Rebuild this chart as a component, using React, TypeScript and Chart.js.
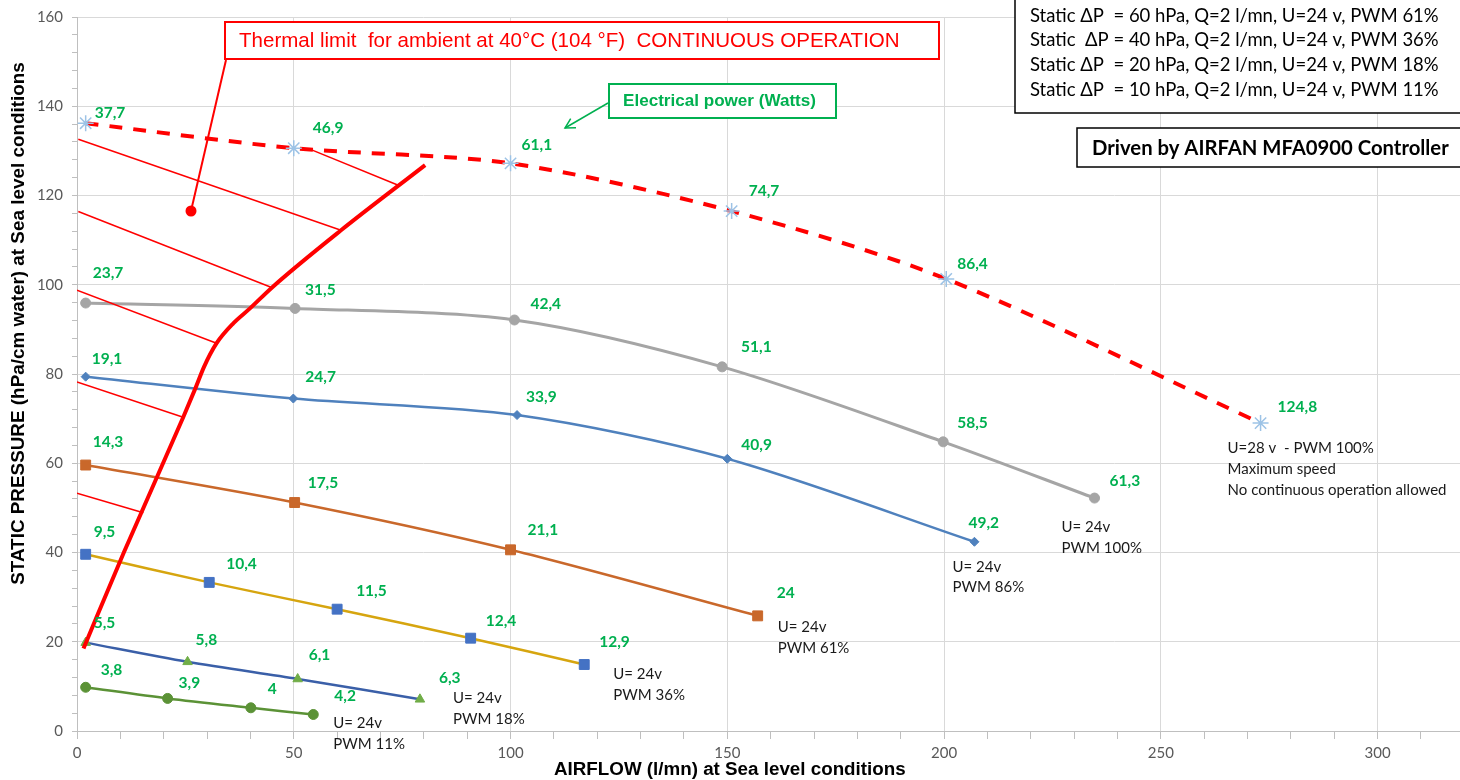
import React, { useEffect, useRef } from 'react';
import { Chart, registerables } from 'chart.js';

Chart.register(...registerables);

// ---------------- DATA ----------------
// Max speed U=28v PWM 100% (red dashed)
const maxQ = [2, 50, 100, 151, 200.5, 273];
const maxP = [136.2, 130.6, 127.2, 116.5, 101.3, 69];
const maxW = ['37,7', '46,9', '61,1', '74,7', '86,4', '124,8'];

// U=24v PWM 100% (grey)
const pwm100Q = [2, 50.3, 100.9, 148.8, 199.8, 234.7];
const pwm100P = [95.9, 94.7, 92.1, 81.6, 64.8, 52.2];
const pwm100W = ['23,7', '31,5', '42,4', '51,1', '58,5', '61,3'];

// U=24v PWM 86% (blue)
const pwm86Q = [2, 49.9, 101.5, 150, 207];
const pwm86P = [79.4, 74.5, 70.8, 61, 42.4];
const pwm86W = ['19,1', '24,7', '33,9', '40,9', '49,2'];

// U=24v PWM 61% (orange)
const pwm61Q = [2, 50.2, 100, 157];
const pwm61P = [59.6, 51.2, 40.6, 25.8];
const pwm61W = ['14,3', '17,5', '21,1', '24'];

// U=24v PWM 36% (gold)
const pwm36Q = [2, 30.5, 60, 90.8, 117];
const pwm36P = [39.6, 33.3, 27.3, 20.8, 14.9];
const pwm36W = ['9,5', '10,4', '11,5', '12,4', '12,9'];

// U=24v PWM 18% (dark blue)
const pwm18Q = [2, 25.5, 50.9, 79.1];
const pwm18P = [19.8, 15.5, 11.65, 7.1];
const pwm18W = ['5,5', '5,8', '6,1', '6,3'];

// U=24v PWM 11% (green)
const pwm11Q = [2, 20.9, 40.1, 54.5];
const pwm11P = [9.8, 7.3, 5.2, 3.7];
const pwm11W = ['3,8', '3,9', '4', '4,2'];

// Thermal limit curve
const thermalQ = [1.5, 10.8, 24.5, 27.4, 29.3, 32.2, 36.1, 39.9, 45, 60.9, 80.3];
const thermalP = [18.5, 40, 70.3, 77, 81.6, 86.9, 91.4, 94.7, 99.4, 112.2, 126.8];

// Hatch segments of the forbidden zone
const hatchStartQ = [0.3, 0.3, 0, 0, 0, 53.7];
const hatchStartP = [132.6, 116.4, 98.8, 78.2, 53.3, 130.4];
const hatchEndQ = [60.9, 44.9, 32.2, 24.5, 15.3, 74.1];
const hatchEndP = [112.2, 99.4, 86.9, 70.3, 48.9, 122.3];

// Axis ticks
const xMajorStep = 50;
const xMinorStep = 10;
const yMajorStep = 20;
const yMinorStep = 4;
const xMax = 319;
const yMax = 160;

// Texts
const notes100 = ['U= 24v', 'PWM 100%'];
const notes86 = ['U= 24v', 'PWM 86%'];
const notes61 = ['U= 24v', 'PWM 61%'];
const notes36 = ['U= 24v', 'PWM 36%'];
const notes18 = ['U= 24v', 'PWM 18%'];
const notes11 = ['U= 24v', 'PWM 11%'];
const notesMax = ['U=28 v  - PWM 100%', 'Maximum speed', 'No continuous operation allowed'];
const infoLines = [
  'Static \u0394P  = 60 hPa, Q=2 l/mn, U=24 v, PWM 61%',
  'Static  \u0394P = 40 hPa, Q=2 l/mn, U=24 v, PWM 36%',
  'Static \u0394P  = 20 hPa, Q=2 l/mn, U=24 v, PWM 18%',
  'Static \u0394P  = 10 hPa, Q=2 l/mn, U=24 v, PWM 11%',
];
const drivenText = 'Driven by AIRFAN MFA0900 Controller';
const thermalText = 'Thermal limit  for ambient at 40\u00B0C (104 \u00B0F)  CONTINUOUS OPERATION';
const powerText = 'Electrical power (Watts)';
const yTitle = 'STATIC PRESSURE (hPa/cm water) at Sea level conditions';
const xTitle = 'AIRFLOW (l/mn) at Sea level conditions';

// ---------------- LAYOUT / STYLE ----------------
const W = 1460;
const H = 780;
const PLOT_LEFT = 77;
const PLOT_TOP = 17;
const PLOT_BOTTOM = 731;
const GREEN = '#00B050';

type Off = [number, number];
const offMax: Off[] = [[9, -10], [19, -20], [11, -18], [17, -20], [11, -15], [17, -16]];
const off100: Off[] = [[7, -30], [10, -18], [16, -16], [19, -20], [14, -19], [15, -17]];
const off86: Off[] = [[6, -18], [12, -22], [9, -18], [14, -14], [-6, -19]];
const off61: Off[] = [[7, -23], [13, -20], [17, -20], [19, -23]];
const off36: Off[] = [[8, -22], [17, -18], [19, -18], [15, -17], [15, -23]];
const off18: Off[] = [[8, -20], [8, -22], [11, -24], [19, -21]];
const off11: Off[] = [[15, -17], [11, -15], [17, -19], [21, -18]];

interface Series {
  q: number[]; p: number[]; w: string[]; off: Off[];
  notes: string[]; noteOff: Off;
  color: string; width: number; pointStyle: any; radius: number;
  pointFill: string; pointBorder: string; pointBorderWidth: number; dash?: number[];
}

const SERIES: Series[] = [
  { q: maxQ, p: maxP, w: maxW, off: offMax, notes: notesMax, noteOff: [-33, 25], color: '#FF0000', width: 4, pointStyle: 'star', radius: 8, pointFill: 'rgba(0,0,0,0)', pointBorder: '#9DC3E6', pointBorderWidth: 1.5, dash: [13, 11] },
  { q: pwm100Q, p: pwm100P, w: pwm100W, off: off100, notes: notes100, noteOff: [-33, 29], color: '#A5A5A5', width: 3, pointStyle: 'circle', radius: 5, pointFill: '#A5A5A5', pointBorder: '#A5A5A5', pointBorderWidth: 1 },
  { q: pwm86Q, p: pwm86P, w: pwm86W, off: off86, notes: notes86, noteOff: [-22, 25], color: '#4F81BD', width: 2.5, pointStyle: 'rectRot', radius: 4.5, pointFill: '#4F81BD', pointBorder: '#4F81BD', pointBorderWidth: 1 },
  { q: pwm61Q, p: pwm61P, w: pwm61W, off: off61, notes: notes61, noteOff: [20, 11], color: '#C9682B', width: 2.5, pointStyle: 'rect', radius: 7, pointFill: '#C9682B', pointBorder: '#C9682B', pointBorderWidth: 1 },
  { q: pwm36Q, p: pwm36P, w: pwm36W, off: off36, notes: notes36, noteOff: [29, 10], color: '#D6A50F', width: 2.5, pointStyle: 'rect', radius: 7, pointFill: '#4472C4', pointBorder: '#4472C4', pointBorderWidth: 1 },
  { q: pwm18Q, p: pwm18P, w: pwm18W, off: off18, notes: notes18, noteOff: [33, -1], color: '#3A5FA8', width: 2.5, pointStyle: 'triangle', radius: 5.5, pointFill: '#70AD47', pointBorder: '#70AD47', pointBorderWidth: 1 },
  { q: pwm11Q, p: pwm11P, w: pwm11W, off: off11, notes: notes11, noteOff: [20, 9], color: '#5B9236', width: 2.5, pointStyle: 'circle', radius: 5, pointFill: '#5B9236', pointBorder: '#5B9236', pointBorderWidth: 1 },
];

function pts(q: number[], p: number[]) {
  return q.map((x, i) => ({ x, y: p[i] }));
}

function fitSize(ctx: CanvasRenderingContext2D, text: string, weight: string, family: string, target: number) {
  ctx.font = `${weight} 100px ${family}`;
  const w = ctx.measureText(text).width;
  return (100 * target) / w;
}

function box(ctx: CanvasRenderingContext2D, x1: number, y1: number, x2: number, y2: number, stroke: string, lw: number) {
  ctx.fillStyle = '#FFFFFF';
  ctx.fillRect(x1, y1, x2 - x1, y2 - y1);
  ctx.strokeStyle = stroke;
  ctx.lineWidth = lw;
  ctx.strokeRect(x1, y1, x2 - x1, y2 - y1);
}

const overlayPlugin = {
  id: 'overlay',
  afterDatasetsDraw(chart: any) {
    const ctx: CanvasRenderingContext2D = chart.ctx;
    const xs = chart.scales.x;
    const ys = chart.scales.y;
    ctx.save();
    ctx.textBaseline = 'middle';
    ctx.textAlign = 'left';
    // value labels
    ctx.font = 'bold 15.5px Lato';
    ctx.fillStyle = GREEN;
    SERIES.forEach((s) => {
      s.q.forEach((q, i) => {
        const px = xs.getPixelForValue(q);
        const py = ys.getPixelForValue(s.p[i]);
        ctx.fillText(s.w[i], px + s.off[i][0], py + s.off[i][1]);
      });
    });
    // curve notes
    ctx.font = '15px Lato';
    ctx.fillStyle = '#1A1A1A';
    SERIES.forEach((s) => {
      const n = s.q.length - 1;
      const px = xs.getPixelForValue(s.q[n]) + s.noteOff[0];
      const py = ys.getPixelForValue(s.p[n]) + s.noteOff[1];
      s.notes.forEach((t, k) => ctx.fillText(t, px, py + k * 20.8));
    });
    ctx.restore();
  },
  afterDraw(chart: any) {
    const ctx: CanvasRenderingContext2D = chart.ctx;
    ctx.save();
    ctx.textBaseline = 'middle';
    ctx.textAlign = 'left';

    // Thermal limit callout
    ctx.strokeStyle = '#FF0000';
    ctx.lineWidth = 2;
    ctx.beginPath();
    ctx.moveTo(226, 60);
    ctx.lineTo(191, 211);
    ctx.stroke();
    ctx.fillStyle = '#FF0000';
    ctx.beginPath();
    ctx.arc(191, 211, 5.5, 0, Math.PI * 2);
    ctx.fill();
    box(ctx, 225, 22, 939, 59, '#FF0000', 2);
    let fs = fitSize(ctx, thermalText, 'normal', '"Liberation Sans"', 661);
    ctx.font = `normal ${fs}px "Liberation Sans"`;
    ctx.fillStyle = '#FF0000';
    ctx.fillText(thermalText, 239, 41.5);

    // Electrical power callout
    ctx.strokeStyle = GREEN;
    ctx.lineWidth = 1.5;
    ctx.beginPath();
    ctx.moveTo(608, 103);
    ctx.lineTo(565, 128);
    ctx.stroke();
    const ang = Math.atan2(128 - 103, 565 - 608);
    ctx.beginPath();
    ctx.moveTo(565 - 11 * Math.cos(ang - 0.5), 128 - 11 * Math.sin(ang - 0.5));
    ctx.lineTo(565, 128);
    ctx.lineTo(565 - 11 * Math.cos(ang + 0.5), 128 - 11 * Math.sin(ang + 0.5));
    ctx.stroke();
    box(ctx, 609, 84, 836, 118, GREEN, 2);
    fs = fitSize(ctx, powerText, 'bold', '"Liberation Sans"', 193);
    ctx.font = `bold ${fs}px "Liberation Sans"`;
    ctx.fillStyle = GREEN;
    ctx.fillText(powerText, 623, 101.5);

    // Info box top-right
    box(ctx, 1015, -2, W + 3, 113, '#000000', 1.5);
    fs = fitSize(ctx, infoLines[0], 'normal', 'Lato', 409);
    ctx.font = `normal ${fs}px Lato`;
    ctx.fillStyle = '#000000';
    const infoY = [16, 40.5, 65.5, 90.5];
    infoLines.forEach((t, i) => ctx.fillText(t, 1030, infoY[i]));

    // Driven box
    box(ctx, 1077, 128, W + 3, 167, '#000000', 1.5);
    fs = fitSize(ctx, drivenText, 'bold', 'Lato', 357);
    ctx.font = `bold ${fs}px Lato`;
    ctx.fillStyle = '#000000';
    ctx.fillText(drivenText, 1092, 148.5);

    // Axis titles
    ctx.fillStyle = '#000000';
    fs = fitSize(ctx, yTitle, 'bold', '"Liberation Sans"', 523);
    ctx.font = `bold ${fs}px "Liberation Sans"`;
    ctx.save();
    ctx.translate(19, 323.5);
    ctx.rotate(-Math.PI / 2);
    ctx.textAlign = 'center';
    ctx.fillText(yTitle, 0, 0);
    ctx.restore();
    fs = fitSize(ctx, xTitle, 'bold', '"Liberation Sans"', 352);
    ctx.font = `bold ${fs}px "Liberation Sans"`;
    ctx.textAlign = 'left';
    ctx.fillText(xTitle, 554, 770);

    ctx.restore();
  },
};

export default function App() {
  const ref = useRef<HTMLCanvasElement>(null);
  useEffect(() => {
    document.body.style.margin = '0';
    document.body.style.overflow = 'hidden';
    const datasets: any[] = [];
    datasets.push({
      data: pts(thermalQ, thermalP),
      showLine: true,
      borderColor: '#FF0000',
      borderWidth: 4,
      pointRadius: 0,
      cubicInterpolationMode: 'monotone',
      fill: false,
    });
    hatchStartQ.forEach((q, i) => {
      datasets.push({
        data: [{ x: q, y: hatchStartP[i] }, { x: hatchEndQ[i], y: hatchEndP[i] }],
        showLine: true,
        borderColor: '#FF0000',
        borderWidth: 1.5,
        pointRadius: 0,
        fill: false,
      });
    });
    SERIES.forEach((s) => {
      datasets.push({
        data: pts(s.q, s.p),
        showLine: true,
        borderColor: s.color,
        borderWidth: s.width,
        borderDash: s.dash || [],
        borderCapStyle: 'butt',
        tension: 0.3,
        fill: false,
        pointStyle: s.pointStyle,
        pointRadius: s.radius,
        pointBackgroundColor: s.pointFill,
        pointBorderColor: s.pointBorder,
        pointBorderWidth: s.pointBorderWidth,
      });
    });

    const chart = new Chart(ref.current as HTMLCanvasElement, {
      type: 'scatter',
      data: { datasets },
      plugins: [overlayPlugin as any],
      options: {
        responsive: false,
        devicePixelRatio: 1,
        animation: false,
        events: [],
        layout: { autoPadding: false, padding: { top: PLOT_TOP, left: 0, right: 0, bottom: 0 } },
        plugins: { legend: { display: false }, tooltip: { enabled: false } },
        scales: {
          x: {
            type: 'linear',
            min: 0,
            max: xMax,
            bounds: 'data',
            afterFit: (s: any) => { s.height = H - PLOT_BOTTOM; s.paddingLeft = 0; s.paddingRight = 0; },
            ticks: {
              stepSize: xMinorStep,
              maxTicksLimit: 200,
              includeBounds: false,
              autoSkip: false,
              maxRotation: 0,
              minRotation: 0,
              padding: 5,
              color: '#595959',
              font: { family: 'Lato', size: 15 },
              callback: (v: any) => (Math.round(v) % xMajorStep === 0 ? String(v) : ''),
            },
            grid: {
              color: (c: any) => (c.tick && Math.round(c.tick.value) % xMajorStep === 0 ? '#D9D9D9' : 'rgba(0,0,0,0)'),
              tickColor: '#BFBFBF',
              tickLength: 8,
              drawTicks: true,
              lineWidth: 1,
            },
            border: { color: '#BFBFBF', width: 1 },
          } as any,
          y: {
            type: 'linear',
            min: 0,
            max: yMax,
            bounds: 'data',
            afterFit: (s: any) => { s.width = PLOT_LEFT; s.paddingTop = 0; s.paddingBottom = 0; },
            ticks: {
              stepSize: yMinorStep,
              maxTicksLimit: 200,
              includeBounds: false,
              autoSkip: false,
              padding: 9,
              color: '#595959',
              font: { family: 'Lato', size: 15 },
              callback: (v: any) => (Math.round(v) % yMajorStep === 0 ? String(v) : ''),
            },
            grid: {
              color: (c: any) => (c.tick && Math.round(c.tick.value) % yMajorStep === 0 ? '#D9D9D9' : 'rgba(0,0,0,0)'),
              tickColor: '#BFBFBF',
              tickLength: 5,
              drawTicks: true,
              lineWidth: 1,
            },
            border: { color: '#BFBFBF', width: 1 },
          } as any,
        },
      },
    });
    return () => chart.destroy();
  }, []);
  return (
    <div style={{ position: 'fixed', left: 0, top: 0, width: W, height: H, background: '#FFFFFF' }}>
      <canvas ref={ref} width={W} height={H} style={{ width: W, height: H, display: 'block' }} />
    </div>
  );
}
